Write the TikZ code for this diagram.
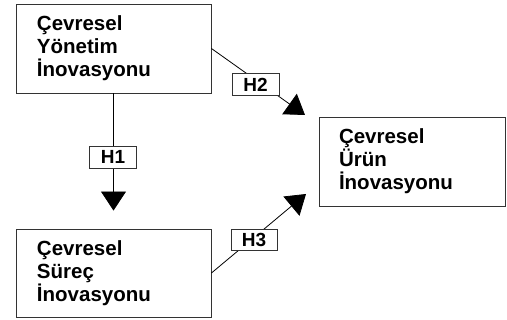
\documentclass[tikz,border=0pt]{standalone}
\usepackage{fontspec}
\setmainfont{Liberation Sans}
\usetikzlibrary{arrows.meta}
\begin{document}
\begin{tikzpicture}[x=1pt,y=-1pt,
  cbox/.style={draw=black!80, line width=0.9pt, rectangle, align=left,
    inner xsep=0pt, inner ysep=0pt, font=\bfseries\fontsize{20.5}{23}\selectfont},
  hlabel/.style={draw=black!80, fill=white, line width=0.9pt, inner sep=0pt,
    minimum width=47pt, minimum height=22pt, font=\bfseries\fontsize{19}{19}\selectfont},
  link/.style={line width=0.8pt, -{Triangle[length=19pt,width=25pt]}}]
\useasboundingbox (0,0) rectangle (507,320);
\node[cbox, minimum width=195pt, minimum height=89pt, text width=153pt] (A) at (113.5,48.5) {Çevresel\\Yönetim\\İnovasyonu};
\node[cbox, minimum width=195pt, minimum height=88pt, text width=153pt] (C) at (113.5,273) {Çevresel\\Süreç\\İnovasyonu};
\node[cbox, minimum width=186pt, minimum height=89pt, text width=146pt] (B) at (412,161.5) {Çevresel\\Ürün\\İnovasyonu};
\coordinate (t2) at (305,115);
\coordinate (t3) at (306,194);
\draw[link, shorten >=18pt] (A.south) -- (C.north);
\draw[link] (A.east) -- (t2);
\draw[link] (C.east) -- (t3);
\node[hlabel] (h1) at (113,157) {H1};
\node[hlabel] (h2) at (255.5,84.5) {H2};
\node[hlabel, minimum width=46pt, minimum height=21pt] (h3) at (254,239.5) {H3};
\end{tikzpicture}
\end{document}
